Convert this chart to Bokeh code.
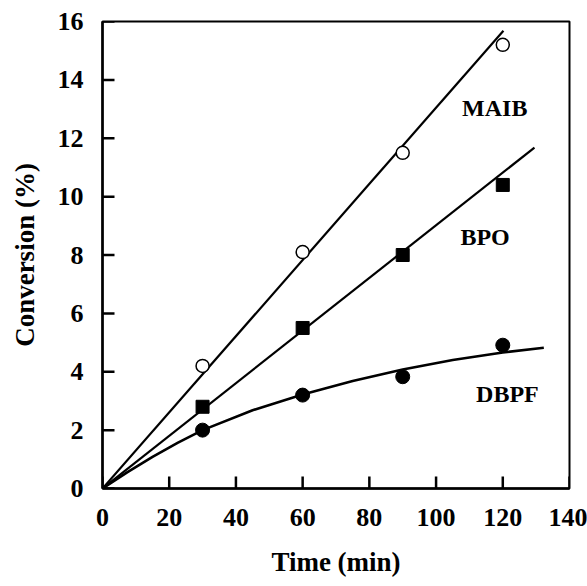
from bokeh.plotting import figure
from bokeh.models import Range1d, FixedTicker, ColumnDataSource
from bokeh.core.properties import value
from bokeh.embed import file_html
from bokeh.resources import INLINE

# Data
time = [30, 60, 90, 120]
maib = [4.2, 8.1, 11.5, 15.2]
bpo = [2.8, 5.5, 8.0, 10.4]
dbpf = [2.0, 3.2, 3.83, 4.91]

maib_fit_x = [0, 120.2]
maib_fit_y = [0, 15.68]
bpo_fit_x = [0, 129.5]
bpo_fit_y = [0, 11.68]
dbpf_fit_x = [0, 7.5, 15, 22.5, 30, 45, 60, 75, 90, 105, 120, 132.3]
dbpf_fit_y = [0, 0.56, 1.08, 1.56, 2.0, 2.68, 3.22, 3.68, 4.08, 4.40, 4.66, 4.82]

labels = ["MAIB", "BPO", "DBPF"]
label_x = [107.8, 107.3, 112.0]
label_y = [13.05, 8.6, 3.24]

x_ticks = [0, 20, 40, 60, 80, 100, 120, 140]
y_ticks = [0, 2, 4, 6, 8, 10, 12, 14, 16]

FONT = "Liberation Serif"
X0, X1, Y0, Y1 = 0, 140, 0, 16
FW, FH = 467, 467
TICK_PX = 12

p = figure(frame_width=FW, frame_height=FH, output_backend="svg", toolbar_location=None,
           x_range=Range1d(X0, X1), y_range=Range1d(Y0, Y1),
           min_border_left=102, min_border_right=18, min_border_top=21, min_border_bottom=98)
p.background_fill_color = "white"
p.border_fill_color = "white"
p.grid.visible = False
p.outline_line_color = "black"
p.outline_line_width = 2

for ax in (p.xaxis, p.yaxis):
    ax.axis_line_width = 2.5
    ax.axis_line_color = "black"
    ax.major_tick_in = 0
    ax.major_tick_out = 0
    ax.minor_tick_line_color = None
    ax.major_label_text_font = FONT
    ax.major_label_text_font_style = "bold"
    ax.major_label_text_font_size = "26px"
    ax.major_label_text_color = "black"
    ax.axis_label_text_font = FONT
    ax.axis_label_text_font_style = "bold"
    ax.axis_label_text_font_size = "27px"
    ax.axis_label_text_color = "black"

p.xaxis.ticker = FixedTicker(ticks=x_ticks)
p.yaxis.ticker = FixedTicker(ticks=y_ticks)
p.xaxis.axis_label = "Time (min)"
p.yaxis.axis_label = "Conversion (%)"
p.xaxis.major_label_standoff = 20
p.yaxis.major_label_standoff = 19
p.xaxis.axis_label_standoff = 18
p.yaxis.axis_label_standoff = 15

# inward tick marks drawn as segments (length converted from pixels to data units)
dx = TICK_PX * (X1 - X0) / FW
dy = TICK_PX * (Y1 - Y0) / FH
p.segment(x0=[X0] * len(y_ticks), y0=y_ticks, x1=[X0 + dx] * len(y_ticks), y1=y_ticks,
          line_color="black", line_width=2.5)
p.segment(x0=x_ticks, y0=[Y0] * len(x_ticks), x1=x_ticks, y1=[Y0 + dy] * len(x_ticks),
          line_color="black", line_width=2.5)

p.line(maib_fit_x, maib_fit_y, line_color="black", line_width=2.2)
p.line(bpo_fit_x, bpo_fit_y, line_color="black", line_width=2.2)
p.line(dbpf_fit_x, dbpf_fit_y, line_color="black", line_width=2.6)

p.scatter(time, maib, marker="circle", size=13, fill_color="white", line_color="black", line_width=1.5)
p.scatter(time, bpo, marker="square", size=13, fill_color="black", line_color="black")
p.scatter(time, dbpf, marker="circle", size=14, fill_color="black", line_color="black")

src = ColumnDataSource(dict(x=label_x, y=label_y, t=labels))
p.text(x="x", y="y", text="t", source=src, text_font=value(FONT), text_font_style="bold",
       text_font_size="24px", text_color="black", text_baseline="alphabetic", text_align="left")

open("out.html", "w").write(file_html(p, INLINE))
